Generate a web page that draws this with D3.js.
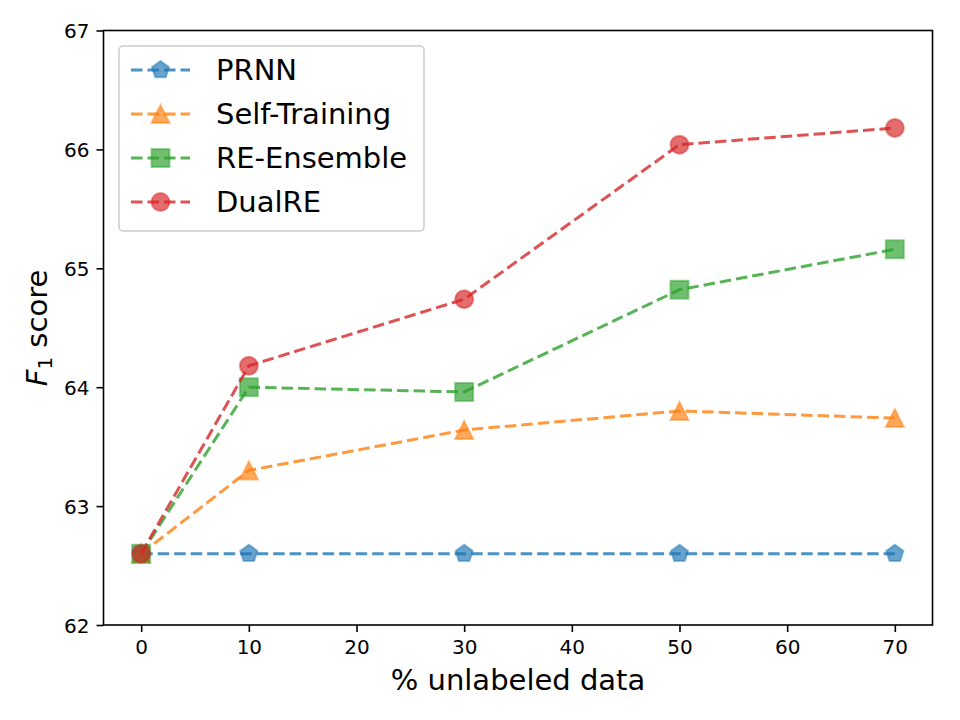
<!DOCTYPE html>
<html>
<head>
<meta charset="utf-8">
<script src="https://cdn.jsdelivr.net/npm/d3@7"></script>
<style>
  html, body { margin: 0; padding: 0; background: #fff; }
  svg { display: block; font-family: "DejaVu Sans", sans-serif; }
</style>
</head>
<body>
<svg id="chart" width="960" height="720"></svg>
<script>
// ---- data ----
const xValues = [0, 10, 30, 50, 70];
const seriesNames = ["PRNN", "Self-Training", "RE-Ensemble", "DualRE"];
const prnn = [62.6, 62.6, 62.6, 62.6, 62.6];
const selfTraining = [62.6, 63.30, 63.64, 63.80, 63.74];
const reEnsemble = [62.6, 64.00, 63.96, 64.82, 65.16];
const dualRE = [62.6, 64.18, 64.74, 66.04, 66.18];
const xTicks = [0, 10, 20, 30, 40, 50, 60, 70];
const yTicks = [62, 63, 64, 65, 66, 67];
const xLabel = "% unlabeled data";

// ---- styles ----
const colors = ["#1f77b4", "#ff7f0e", "#2ca02c", "#d62728"];
const markers = ["pentagon", "triangle", "square", "circle"];
const seriesValues = [prnn, selfTraining, reEnsemble, dualRE];
const ALPHA = 0.8;
const MS = 18;

const svg = d3.select("#chart");
const pLeft = 103.5, pRight = 932.5, pTop = 30.5, pBottom = 625;

const x = d3.scaleLinear().domain([-3.5, 73.5]).range([pLeft, pRight]);
const y = d3.scaleLinear().domain([62, 67]).range([pBottom, pTop]);

function markerPath(type, s) {
  const r = s / 2;
  if (type === "circle") {
    return d3.symbol(d3.symbolCircle, Math.PI * r * r)();
  }
  if (type === "square") {
    return `M${-r},${-r}L${r},${-r}L${r},${r}L${-r},${r}Z`;
  }
  if (type === "triangle") {
    return `M0,${-r}L${-r},${r}L${r},${r}Z`;
  }
  if (type === "pentagon") {
    const pts = d3.range(5).map(i => {
      const a = -Math.PI / 2 + i * 2 * Math.PI / 5;
      return [r * Math.cos(a), r * Math.sin(a)];
    });
    return "M" + pts.map(p => p.join(",")).join("L") + "Z";
  }
}

// axes ticks
const xAxis = d3.axisBottom(x).tickValues(xTicks).tickSize(7).tickPadding(7).tickFormat(d3.format("d"));
const yAxis = d3.axisLeft(y).tickValues(yTicks).tickSize(7).tickPadding(7).tickFormat(d3.format("d"));

const gx = svg.append("g").attr("transform", `translate(0,${pBottom})`).call(xAxis);
const gy = svg.append("g").attr("transform", `translate(${pLeft},0)`).call(yAxis);
[gx, gy].forEach(g => {
  g.select(".domain").remove();
  g.selectAll(".tick line").attr("stroke", "#000").attr("stroke-width", 1.6);
  g.selectAll(".tick text").attr("fill", "#000").attr("font-size", 20)
    .attr("font-family", "DejaVu Sans");
});
gy.selectAll(".tick text").attr("dy", "0.36em");
gx.selectAll(".tick text").attr("dy", "0.76em");

// series
const line = d3.line().x((d, i) => x(xValues[i])).y(d => y(d));
seriesValues.forEach((vals, si) => {
  const g = svg.append("g");
  g.append("path").datum(vals).attr("d", line)
    .attr("fill", "none").attr("stroke", colors[si]).attr("stroke-opacity", ALPHA)
    .attr("stroke-width", 3).attr("stroke-dasharray", "11.5,5");
  g.selectAll("path.m").data(vals).enter().append("path").attr("class", "m")
    .attr("d", markerPath(markers[si], MS))
    .attr("transform", (d, i) => `translate(${x(xValues[i])},${y(d)})`)
    .attr("fill", colors[si]).attr("fill-opacity", ALPHA * 0.85)
    .attr("stroke", colors[si]).attr("stroke-opacity", ALPHA * 0.6).attr("stroke-width", 2);
});

// frame
svg.append("rect").attr("x", pLeft).attr("y", pTop)
  .attr("width", pRight - pLeft).attr("height", pBottom - pTop)
  .attr("fill", "none").attr("stroke", "#000").attr("stroke-width", 1.6);

// legend
const lg = svg.append("g");
lg.append("rect").attr("x", 119).attr("y", 46).attr("width", 305).attr("height", 185)
  .attr("rx", 4).attr("fill", "#fff").attr("fill-opacity", 0.8)
  .attr("stroke", "#cccccc").attr("stroke-width", 1.5);
seriesNames.forEach((name, i) => {
  const cy = 70 + i * 44;
  lg.append("line").attr("x1", 131).attr("x2", 190).attr("y1", cy).attr("y2", cy)
    .attr("stroke", colors[i]).attr("stroke-opacity", ALPHA).attr("stroke-width", 3)
    .attr("stroke-dasharray", "11.5,5");
  lg.append("path").attr("d", markerPath(markers[i], MS))
    .attr("transform", `translate(160.5,${cy})`)
    .attr("fill", colors[i]).attr("fill-opacity", ALPHA * 0.85)
    .attr("stroke", colors[i]).attr("stroke-opacity", ALPHA * 0.6).attr("stroke-width", 2);
  lg.append("text").attr("x", 216).attr("y", cy).attr("dy", "0.36em")
    .attr("font-size", 29).attr("fill", "#000").text(name);
});

// axis labels
svg.append("text").attr("x", (pLeft + pRight) / 2).attr("y", 690)
  .attr("text-anchor", "middle").attr("font-size", 29).attr("fill", "#000").text(xLabel);

const yl = svg.append("text").attr("transform", `translate(47,328) rotate(-90)`)
  .attr("text-anchor", "middle").attr("font-size", 29).attr("fill", "#000");
yl.append("tspan").attr("font-style", "italic").text("F");
yl.append("tspan").attr("font-size", 20).attr("dy", 5).text("1");
yl.append("tspan").attr("dy", -5).text(" score");
</script>
</body>
</html>
